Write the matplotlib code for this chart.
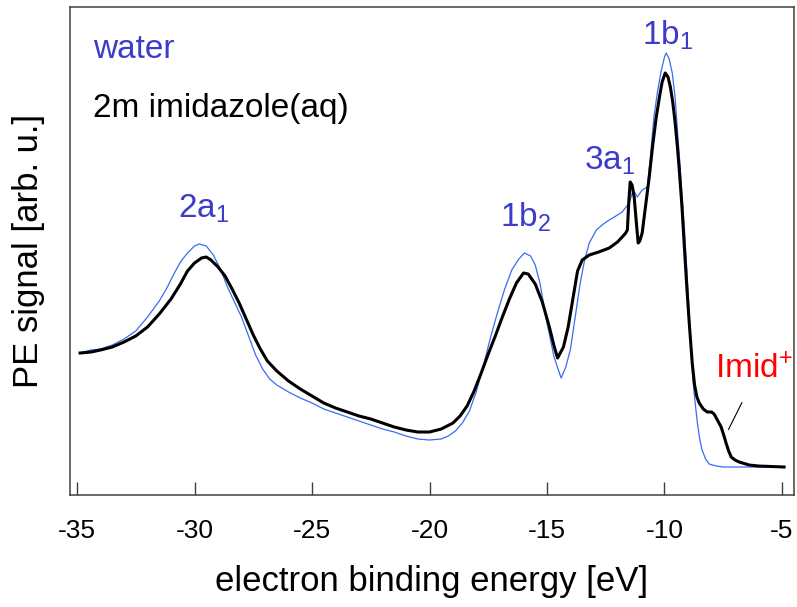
import matplotlib
matplotlib.use("Agg")
import matplotlib.pyplot as plt

plt.rcParams['font.family'] = ['Liberation Sans', 'DejaVu Sans']
plt.rcParams['mathtext.fontset'] = 'custom'
plt.rcParams['mathtext.rm'] = 'Liberation Sans'
plt.rcParams['mathtext.it'] = 'Liberation Sans'
plt.rcParams['mathtext.default'] = 'regular'

# water spectrum (binding energy in eV, signal in arb. units)
water_x = [-34.87, -34.4, -34.0, -33.5, -33.0, -32.5, -32.0, -31.5, -31.2, -30.9,
           -30.6, -30.3, -30.0, -29.8, -29.5, -29.2, -28.9, -28.6, -28.3, -28.0,
           -27.7, -27.4, -27.1, -26.8, -26.5, -26.0, -25.5, -25.0, -24.5, -24.0,
           -23.5, -23.0, -22.5, -22.0, -21.5, -21.0, -20.5, -20.0, -19.5, -19.2,
           -18.9, -18.6, -18.3, -18.0, -17.7, -17.4, -17.1, -16.8, -16.5, -16.2,
           -15.96, -15.7, -15.5, -15.3, -15.0, -14.7, -14.4, -14.2, -14.0, -13.8,
           -13.6, -13.4, -13.2, -12.9, -12.6, -12.35, -12.0, -11.8, -11.5, -11.33,
           -11.16, -10.95, -10.73, -10.6, -10.45, -10.3, -10.15, -10.0, -9.93, -9.8,
           -9.67, -9.55, -9.46, -9.35, -9.25, -9.16, -9.03, -8.90, -8.80, -8.70,
           -8.60, -8.50, -8.40, -8.25, -8.10, -7.80, -7.50, -4.91]
water_y = [114, 117, 118, 122, 128, 136, 150, 166, 178, 192,
           205, 214, 221, 223, 221, 212, 198, 180, 165, 150,
           131, 112, 98, 88, 82, 75, 69, 64, 58, 54,
           50, 46, 42, 38, 35, 31, 28, 27, 28, 31,
           36, 44, 56, 76, 102, 130, 155, 178, 197, 208,
           214, 211, 202, 184, 144, 110, 89, 100, 118, 150,
           182, 207, 224, 237, 243, 247, 252, 255, 264, 277,
           270, 277, 280, 310, 350, 375, 395, 410, 414, 408,
           394, 370, 340, 305, 270, 240, 190, 130, 90, 65,
           44, 28, 17, 8, 3, 1, 0, 0]

# 2m imidazole(aq) spectrum
imid_x = [-34.87, -34.4, -34.0, -33.5, -33.0, -32.5, -32.0, -31.5, -31.0, -30.6,
          -30.3, -30.0, -29.7, -29.5, -29.3, -29.0, -28.7, -28.4, -28.1, -27.8,
          -27.5, -27.2, -26.9, -26.5, -26.0, -25.5, -25.0, -24.5, -24.0, -23.5,
          -23.0, -22.5, -22.0, -21.5, -21.0, -20.5, -20.0, -19.5, -19.0, -18.7,
          -18.4, -18.1, -17.8, -17.5, -17.2, -16.9, -16.6, -16.3, -16.0, -15.8,
          -15.5, -15.2, -14.9, -14.7, -14.55, -14.3, -14.1, -13.9, -13.7, -13.5,
          -13.2, -12.8, -12.35, -12.0, -11.8, -11.65, -11.58, -11.52, -11.46, -11.38,
          -11.29, -11.2, -11.12, -11.05, -10.95, -10.8, -10.65, -10.5, -10.35, -10.2,
          -10.1, -9.97, -9.85, -9.75, -9.65, -9.55, -9.45, -9.37, -9.25, -9.16,
          -9.05, -8.95, -8.82, -8.72, -8.62, -8.52, -8.35, -8.18, -8.0, -7.89,
          -7.75, -7.59, -7.48, -7.38, -7.27, -7.16, -7.0, -6.82, -6.4, -6.0, -4.91]
imid_y = [114, 115, 117, 120, 125, 131, 140, 153, 168, 183,
          196, 204, 209, 210, 207, 200, 191, 178, 164, 148,
          132, 118, 106, 96, 86, 78, 71, 64, 59, 55,
          51, 48, 44, 40, 37, 35, 35, 38, 44, 51,
          61, 76, 94, 113, 131, 150, 168, 184, 194, 193,
          183, 165, 140, 121, 109, 120, 140, 168, 196, 207,
          212, 215, 219, 225, 230, 234, 237, 265, 285, 282,
          270, 245, 224, 226, 234, 262, 290, 322, 350, 372,
          385, 394, 390, 380, 365, 345, 320, 297, 258, 222,
          180, 145, 104, 82, 70, 64, 58, 55, 55, 53,
          47, 40, 32, 24, 16, 10, 7, 5, 2, 1, 0]

xticks = [-35, -30, -25, -20, -15, -10, -5]

label_col = '#3c3cc8'

fig = plt.figure(figsize=(7.97, 6.07), dpi=100)
ax = fig.add_axes([0.0878, 0.1845, 0.9084, 0.804])

ax.plot(water_x, water_y, color='#3a6cf5', lw=0.9)
ax.plot(imid_x, imid_y, color='black', lw=2.2)

ax.set_xlim(-35.3, -4.49)
ax.set_ylim(-28, 460)
ax.set_xticks(xticks)
ax.set_xticklabels([str(t) for t in xticks])
ax.set_yticks([])
ax.tick_params(axis='x', direction='in', length=9.5, width=1.0, color='#404040',
               labelsize=19, pad=17)
for s in ax.spines.values():
    s.set_color('#404040')
    s.set_linewidth(1.1)

ax.set_xlabel('electron binding energy [eV]', fontsize=25, labelpad=16)
ax.set_ylabel('PE signal [arb. u.]', fontsize=25, labelpad=18)

ax.text(-34.32, 409, 'water', color=label_col, fontsize=24, va='baseline')
ax.text(-34.32, 350, '2m imidazole(aq)', color='black', fontsize=24, va='baseline')
ax.text(-30.71, 249, '2a$_1$', color=label_col, fontsize=24, va='baseline')
ax.text(-17.02, 240, '1b$_2$', color=label_col, fontsize=24, va='baseline')
ax.text(-13.41, 297, '3a$_1$', color=label_col, fontsize=24, va='baseline')
ax.text(-10.95, 422, '1b$_1$', color=label_col, fontsize=24, va='baseline')
ax.text(-7.84, 89, 'Imid$^{+}$', color='red', fontsize=24, va='baseline')
ax.annotate('', xy=(-7.33, 35), xytext=(-6.65, 67),
            arrowprops=dict(arrowstyle='-', color='black', lw=0.8))

fig.savefig('out.png', dpi=100)
